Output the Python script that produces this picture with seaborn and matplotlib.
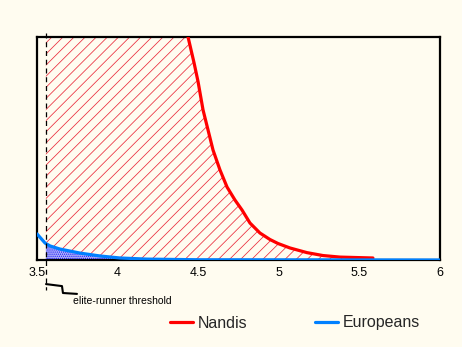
import numpy as np
import pandas as pd
import matplotlib
matplotlib.use("Agg")
import matplotlib.pyplot as plt
import seaborn as sns

# ---- data (y in relative density units, top of frame = 1) ----
nandis_x = [3.50, 3.80, 4.10, 4.30, 4.437, 4.474, 4.499, 4.530, 4.561, 4.592, 4.635, 4.679,
            4.728, 4.772, 4.821, 4.883, 4.945, 4.995, 5.069, 5.175, 5.274, 5.380, 5.584]
nandis_y = [3.20, 2.40, 1.70, 1.30, 1.000, 0.885, 0.800, 0.673, 0.583, 0.493, 0.404, 0.327,
            0.269, 0.224, 0.166, 0.121, 0.092, 0.074, 0.054, 0.033, 0.020, 0.013, 0.009]
euro_x = [3.50, 3.550, 3.581, 3.643, 3.767, 3.891, 4.015, 4.182, 4.51, 6.00]
euro_y = [0.117, 0.076, 0.063, 0.049, 0.031, 0.018, 0.009, 0.004, 0.001, 0.000]
threshold = 3.555
tick_values = [3.5, 4, 4.5, 5, 5.5, 6]
tick_labels = ["3.5", "4", "4.5", "5", "5.5", "6"]
minor_ticks = [4.25, 5.5, 5.75]
series_names = ["Nandis", "Europeans"]
series_colors = ["#ff0000", "#0080ff"]

bg = "#fffcf0"
sns.set_theme(style="white")
plt.rcParams["font.family"] = ["Liberation Sans", "DejaVu Sans"]
plt.rcParams["hatch.linewidth"] = 0.55

fig = plt.figure(figsize=(4.62, 3.47), dpi=100, facecolor=bg)
ax = fig.add_axes([37 / 462, 1 - 260 / 347, 403 / 462, 223 / 347])
ax.set_facecolor(bg)

nx = np.array(nandis_x)
ny = np.array(nandis_y)
ex = np.array(euro_x)
ey = np.array(euro_y)

# hatched area under the Nandis curve beyond the threshold
m = nx >= threshold
fill_x = np.concatenate([[threshold], nx[m]])
fill_y = np.concatenate([[np.interp(threshold, nx, ny)], ny[m]])
ax.fill_between(fill_x, 0, fill_y, facecolor="none", edgecolor="#ea2a3a",
                hatch="///", linewidth=0, zorder=1)
# dotted area under the Europeans curve beyond the threshold
me = ex >= threshold
efx = np.concatenate([[threshold], ex[me]])
efy = np.concatenate([[np.interp(threshold, ex, ey)], ey[me]])
ax.fill_between(efx, 0, efy, facecolor="#b4b4f6", edgecolor="#0000ff",
                hatch="........", linewidth=0, zorder=1.5)

df = pd.concat([
    pd.DataFrame({"x": nx, "y": ny, "group": series_names[0]}),
    pd.DataFrame({"x": ex, "y": ey, "group": series_names[1]}),
])
sns.lineplot(data=df, x="x", y="y", hue="group", palette=series_colors,
             hue_order=series_names, linewidth=2.3, sort=False, ax=ax, zorder=3)
for ln in ax.get_lines():
    ln.set_solid_joinstyle("round")

ax.set_xlim(3.5, 6)
ax.set_ylim(0, 1)
ax.set_xlabel("")
ax.set_ylabel("")
ax.set_yticks([])
ax.set_xticks(tick_values)
ax.set_xticklabels(tick_labels)
ax.set_xticks(minor_ticks, minor=True)
ax.tick_params(axis="x", which="major", length=0, pad=5, labelsize=9, labelcolor="black")
ax.tick_params(axis="x", which="minor", direction="in", length=3, width=1.5, color="black")
for s in ax.spines.values():
    s.set_visible(True)
    s.set_color("black")
    s.set_linewidth(1.6)
    s.set_zorder(2.6)

# threshold marker
ax.plot([threshold, threshold], [1.018, -0.135], color="black", lw=0.9,
        ls=(0, (4, 3)), clip_on=False, zorder=4)
ax.plot([3.556, 3.655, 3.661, 3.748], [-0.108, -0.117, -0.148, -0.152],
        color="black", lw=1.5, clip_on=False, zorder=4)
ax.text(3.723, -0.185, "elite-runner threshold", fontsize=7.5, va="center",
        ha="left", color="black", transform=ax.transData)

sns.move_legend(ax, "center", bbox_to_anchor=(295 / 462, 1 - 323 / 347),
                bbox_transform=fig.transFigure, ncol=2, frameon=False, title=None,
                fontsize=11.5, handlelength=1.45, handletextpad=0.3, columnspacing=4.2)
leg = ax.get_legend()
for h in leg.get_lines():
    h.set_linewidth(2.3)

fig.savefig("out.png", dpi=100, facecolor=bg)
